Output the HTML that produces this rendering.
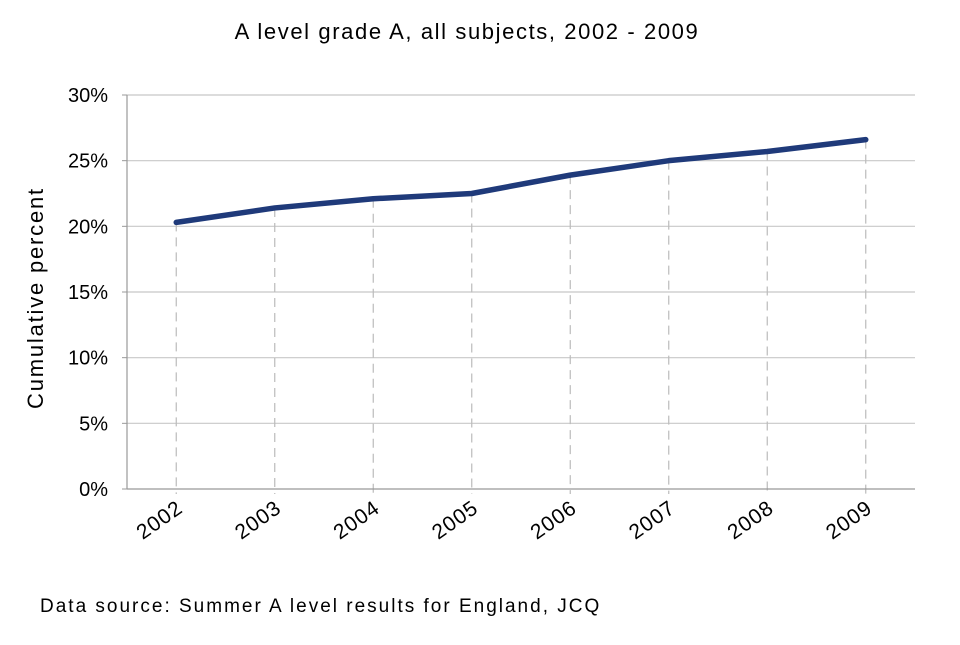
<!DOCTYPE html>
<html><head><meta charset="utf-8"><style>
body{margin:0;background:#fff;}
svg{font-family:"Liberation Sans",Arial,sans-serif;}
</style></head><body>
<svg id="chart" width="960" height="640">
<text x="467" y="39" font-size="22" letter-spacing="1.6" text-anchor="middle">A level grade A, all subjects, 2002 - 2009</text>
<text transform="translate(43,298) rotate(-90)" font-size="22" letter-spacing="1.8" text-anchor="middle">Cumulative percent</text>
<text x="40" y="612" font-size="19" letter-spacing="2">Data source: Summer A level results for England, JCQ</text>
<g id="grid"></g><g id="drop"></g><g id="axes"></g><g id="series"></g>
</svg>
<script>
const years=["2002","2003","2004","2005","2006","2007","2008","2009"];
const values=[20.3,21.4,22.1,22.5,23.9,25.0,25.7,26.6];
const yTicks=[0,5,10,15,20,25,30];
const yTickLabels=["0%","5%","10%","15%","20%","25%","30%"];
const NS="http://www.w3.org/2000/svg";
const L=127,R=915,T=95,B=489,yMax=30;
const y=v=>B-(v/yMax)*(B-T);
const step=(R-L)/years.length;
const x=i=>L+step*(i+0.5);
function mk(p,tag,a){const e=document.createElementNS(NS,tag);for(const k in a)e.setAttribute(k,a[k]);document.getElementById(p).appendChild(e);return e;}
yTicks.forEach((t,i)=>{
 if(t>0){const g=mk('grid','line',{x1:L,x2:R,y1:y(t),y2:y(t),stroke:'#c8c8c8','stroke-width':1.2});
 
 }
 const tk=mk('axes','line',{x1:L-5,x2:L,y1:y(t),y2:y(t),stroke:'#999'});
 
 
 const tl=mk('axes','text',{x:L-19,y:y(t)+7,'font-size':20,'text-anchor':'end'});tl.textContent=yTickLabels[i];
 
 
});
const ax=mk('axes','line',{x1:L,x2:L,y1:T,y2:B,stroke:'#999','stroke-width':1.2});


const bx=mk('axes','line',{x1:L,x2:R,y1:B,y2:B,stroke:'#999','stroke-width':1.2});


years.forEach((yr,i)=>{
 const d=mk('drop','line',{x1:x(i),x2:x(i),y1:y(values[i]),y2:B+5,stroke:'#bbb','stroke-width':1.2,'stroke-dasharray':'9,6'});
 
 
 const t=mk('axes','text',{transform:`translate(${x(i)+8},${B+22}) rotate(-35)`,'font-size':21,'letter-spacing':1,'text-anchor':'end'});t.textContent=yr;
 
 
});
const pl=mk('series','polyline',{points:values.map((v,i)=>x(i)+','+y(v)).join(' '),fill:'none',stroke:'#1f3a7a','stroke-width':5.5,'stroke-linecap':'round','stroke-linejoin':'round'});


</script>
</body></html>
